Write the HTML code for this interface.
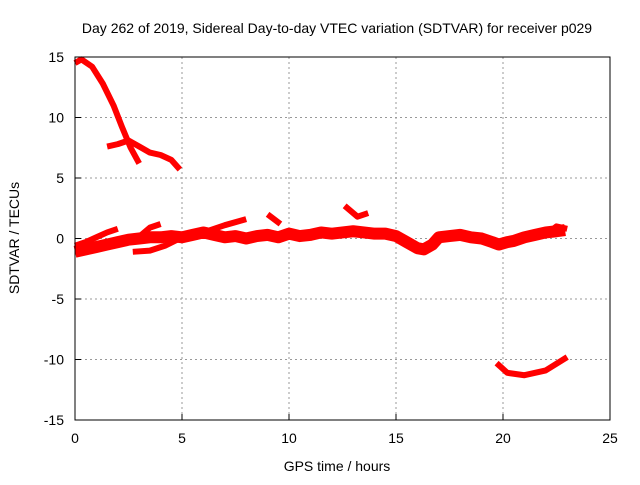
<!DOCTYPE html>
<html><head><meta charset="utf-8"><style>
body{margin:0;background:#fff;}
svg text{font-family:"Liberation Sans",sans-serif;font-size:14px;fill:#000;}
</style></head><body>
<svg width="640" height="480">
<text x="337" y="33" text-anchor="middle">Day 262 of 2019, Sidereal Day-to-day VTEC variation (SDTVAR) for receiver p029</text>
<g id="grid"></g><g id="axes"></g><g id="series"></g>
<rect x="75" y="57" width="535" height="363" fill="none" stroke="#000" stroke-width="1"/>
<text x="337" y="471" text-anchor="middle">GPS time / hours</text>
<text transform="translate(19,238) rotate(-90)" text-anchor="middle">SDTVAR / TECUs</text>
</svg>
<script>
const xTicks=[0,5,10,15,20,25];
const yTicks=[-15,-10,-5,0,5,10,15];
const seriesSteep=[[0,14.5],[0.3,14.8],[0.8,14.2],[1.3,12.8],[1.8,11],[2.2,9.2],[2.6,7.5],[3,6.2]];
const seriesBranch=[[1.5,7.6],[2,7.8],[2.5,8.1],[3,7.6],[3.5,7.1],[4,6.9],[4.5,6.5],[4.9,5.7]];
const seriesMain=[[0,-1.1],[0.5,-0.9],[1,-0.7],[1.5,-0.5],[2,-0.3],[2.5,-0.1],[3,0],[3.5,0.1],[4,0.1],[4.5,0.2],[5,0.1],[5.5,0.3],[6,0.5],[6.5,0.3],[7,0.1],[7.5,0.2],[8,0],[8.5,0.2],[9,0.3],[9.5,0.1],[10,0.4],[10.5,0.2],[11,0.3],[11.5,0.5],[12,0.4],[12.5,0.5],[13,0.6],[13.5,0.5],[14,0.4],[14.5,0.4],[15,0.2],[15.5,-0.3],[16,-0.8],[16.3,-0.9],[16.7,-0.5],[17,0.1],[17.5,0.2],[18,0.3],[18.5,0.1],[19,0],[19.5,-0.3],[19.8,-0.5],[20.2,-0.3],[20.5,-0.2],[21,0.1],[21.5,0.3],[22,0.5],[22.5,0.6],[22.9,0.7]];
const seriesUpper1=[[0,-0.6],[0.5,-0.3],[1,0.1],[1.5,0.5],[2,0.8]];
const seriesUpper2=[[3.1,0.3],[3.5,0.9],[4,1.2]];
const seriesLower=[[2.7,-1.1],[3.5,-1],[4.2,-0.6],[5,0.1],[6,0.5],[7,1.1],[8,1.6]];
const seriesBump=[[9,2],[9.6,1.2]];
const seriesCross=[[12.6,2.7],[13.2,1.8],[13.7,2.1]];
const seriesEnd=[[22,0.3],[22.5,1],[23,0.8]];
const seriesLow=[[19.7,-10.3],[20.2,-11.1],[21,-11.3],[22,-10.9],[23,-9.8]];
const X=v=>75+v*535/25, Y=v=>238.5-v*363/30;
const NS='http://www.w3.org/2000/svg';
const grid=document.getElementById('grid'),axes=document.getElementById('axes'),ser=document.getElementById('series');
xTicks.forEach(t=>{
 if(t>0&&t<25){const l=document.createElementNS(NS,'line');l.setAttribute('x1',X(t));l.setAttribute('x2',X(t));l.setAttribute('y1',57);l.setAttribute('y2',420);l.setAttribute('stroke','#999');l.setAttribute('stroke-dasharray','2,3');
 
 grid.appendChild(l);}
 const k=document.createElementNS(NS,'line');k.setAttribute('x1',X(t));k.setAttribute('x2',X(t));k.setAttribute('y1',414);k.setAttribute('y2',420);k.setAttribute('stroke','#000');axes.appendChild(k);
 const tx=document.createElementNS(NS,'text');tx.setAttribute('x',X(t));tx.setAttribute('y',443);tx.setAttribute('text-anchor','middle');tx.textContent=t;
 
 axes.appendChild(tx);
});
yTicks.forEach(t=>{
 if(t>-15&&t<15){const l=document.createElementNS(NS,'line');l.setAttribute('x1',75);l.setAttribute('x2',610);l.setAttribute('y1',Y(t));l.setAttribute('y2',Y(t));l.setAttribute('stroke','#999');l.setAttribute('stroke-dasharray','2,3');
 
 grid.appendChild(l);}
 const k=document.createElementNS(NS,'line');k.setAttribute('x1',75);k.setAttribute('x2',81);k.setAttribute('y1',Y(t));k.setAttribute('y2',Y(t));k.setAttribute('stroke','#000');axes.appendChild(k);
 const tx=document.createElementNS(NS,'text');tx.setAttribute('x',64);tx.setAttribute('y',Y(t)+5);tx.setAttribute('text-anchor','end');tx.textContent=t;
 
 axes.appendChild(tx);
});
[seriesSteep,seriesBranch,seriesMain,seriesUpper1,seriesUpper2,seriesLower,seriesBump,seriesCross,seriesEnd,seriesLow].forEach((s,i)=>{
 const p=document.createElementNS(NS,'polyline');
 p.setAttribute('points',s.map(d=>X(d[0])+','+Y(d[1])).join(' '));
 p.setAttribute('fill','none');p.setAttribute('stroke','#f00');p.setAttribute('stroke-width',i==2?12:6);p.setAttribute('stroke-linejoin','round');
 
 
 ser.appendChild(p);
});
</script>
</body></html>
